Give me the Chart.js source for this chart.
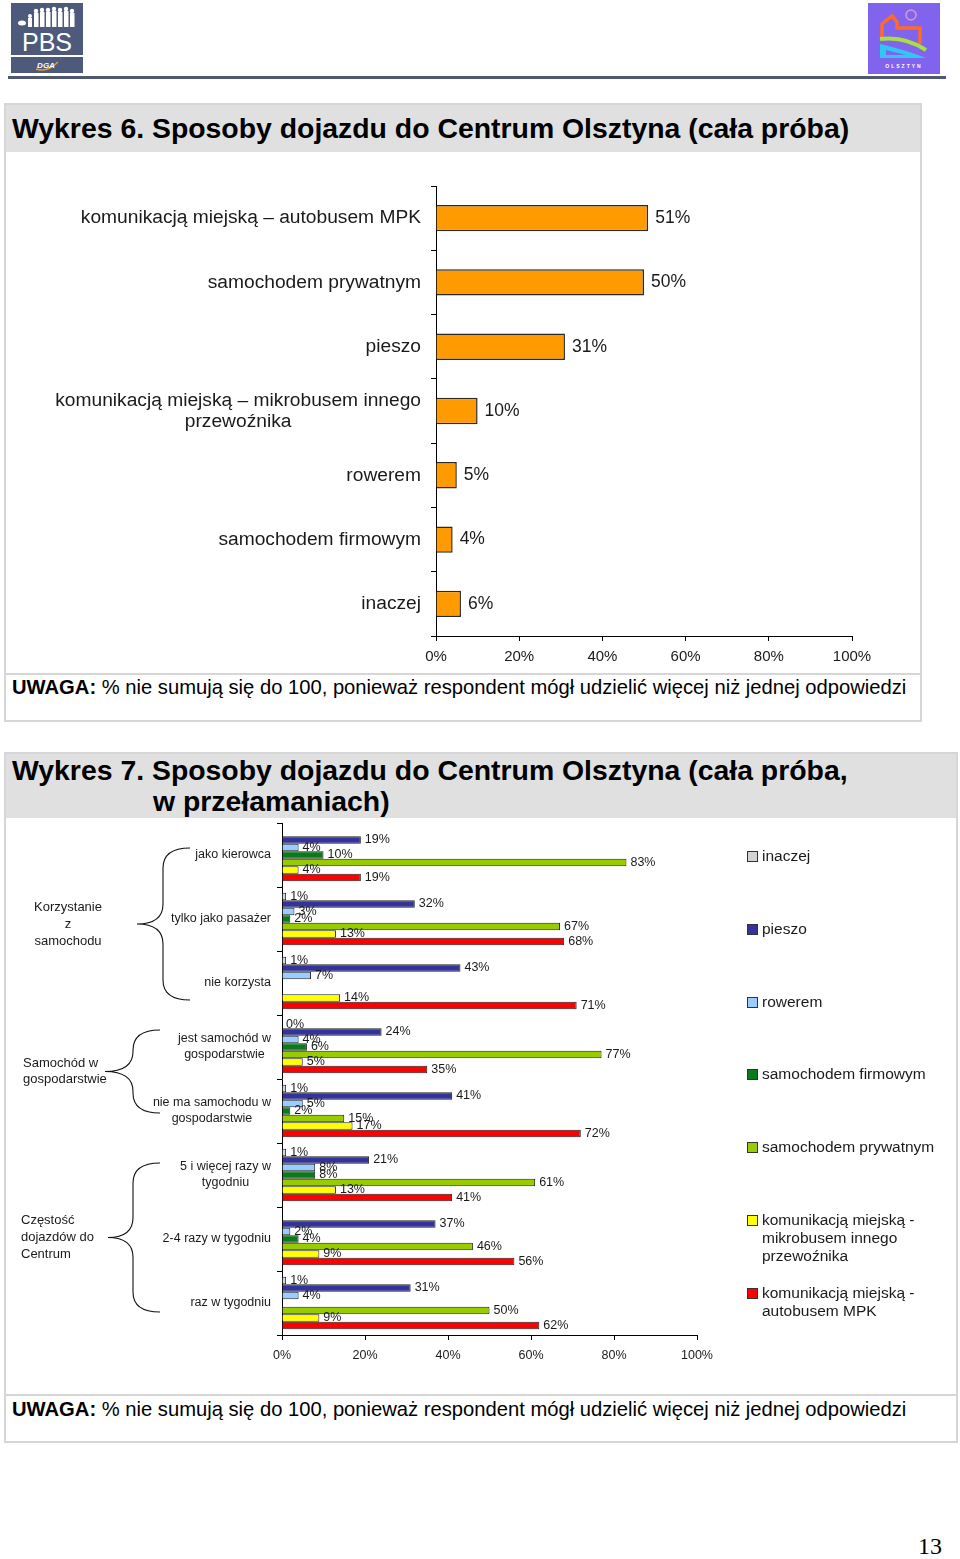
<!DOCTYPE html>
<html lang="pl">
<head>
  <meta charset="UTF-8">
  <title>Sposoby dojazdu do Centrum Olsztyna</title>
  <script src="https://cdn.jsdelivr.net/npm/chart.js"></script>
  <style>
    body { margin: 0; width: 960px; height: 1559px; position: relative; overflow: hidden;
           background: #fff; font-family: "Liberation Sans", Arial, sans-serif; color: #1a1a1a; }
    .abs { position: absolute; }
    .box { position: absolute; border: 2px solid #d6d6d6; box-sizing: border-box; }
    .band { position: absolute; background: #e0e0e0; }
    .sep { position: absolute; height: 2px; background: #d6d6d6; }
    .title { position: absolute; font-size: 28.4px; font-weight: bold; color: #000; white-space: nowrap; line-height: 32px; }
    .note { position: absolute; font-size: 20.2px; white-space: nowrap; color: #000; line-height: 24px; }
    .legend-item { position: absolute; left: 747px; width: 190px; font-size: 15.5px; line-height: 18px; color: #1a1a1a; }
    .legend-item i { position: absolute; left: 0; top: 4px; width: 9px; height: 9px; border: 1px solid #333; }
    .legend-item span { display: block; margin-left: 15px; }
    canvas { position: absolute; }
  </style>
</head>
<body>

<svg class="abs" style="left:0;top:0" width="960" height="80">
  <!-- PBS logo -->
  <rect x="11" y="3" width="72" height="52" fill="#4d5a7c"/>
  <rect x="11" y="57" width="72" height="16" fill="#4d5a7c"/>
  <g fill="#fff">
    <circle cx="30" cy="16" r="2"/><rect x="28" y="18" width="4" height="9"/>
    <circle cx="36" cy="11" r="2.2"/><rect x="34" y="13" width="4.5" height="14"/>
    <circle cx="42" cy="10" r="2.2"/><rect x="40" y="12" width="4.5" height="15"/>
    <circle cx="48" cy="10" r="2.2"/><rect x="46" y="12" width="4.5" height="15"/>
    <circle cx="54" cy="9" r="2.2"/><rect x="52" y="11" width="4.5" height="16"/>
    <circle cx="60" cy="10" r="2.2"/><rect x="58" y="12" width="4.5" height="15"/>
    <circle cx="66" cy="9" r="2.2"/><rect x="64" y="11" width="4.5" height="16"/>
    <circle cx="72" cy="11" r="2.2"/><rect x="70" y="13" width="4.5" height="14"/>
    <ellipse cx="22" cy="23" rx="4" ry="2.5"/>
  </g>
  <text x="47" y="51" text-anchor="middle" fill="#fff" font-family="Liberation Sans, Arial" font-size="25">PBS</text>
  <path d="M36 69 Q47 73 58 62" stroke="#e8a020" stroke-width="1.5" fill="none"/>
  <text x="46" y="68" text-anchor="middle" fill="#fff" font-family="Liberation Sans, Arial" font-size="8" font-weight="bold" font-style="italic">DGA</text>
  <!-- Olsztyn logo -->
  <rect x="868" y="3" width="72" height="71" fill="#8064ee"/>
  <circle cx="911" cy="15" r="5" fill="none" stroke="#d89ac8" stroke-width="1.5"/>
  <path d="M882 40 L882 24 L892 16 L897 22 L897 28 L920 28 L920 44" fill="none" stroke="#ff6a2a" stroke-width="3.5"/>
  <path d="M880 39 Q905 36 926 50" fill="none" stroke="#a8e040" stroke-width="4"/>
  <path d="M880 44 L880 58 L926 58 Q906 50 880 44 Z" fill="#30c8f0"/>
  <path d="M886 50 L886 55 L906 55 Z" fill="#8064ee"/>
  <text x="904" y="68" text-anchor="middle" fill="#fff" font-family="Liberation Sans, Arial" font-size="5" font-weight="bold" letter-spacing="2">OLSZTYN</text>
  <rect x="8" y="76" width="938" height="3" fill="#4e5870"/>
</svg>

<!-- Wykres 6 -->
<div class="box" style="left:4px;top:103px;width:918px;height:619px;"></div>
<div class="band" style="left:6px;top:105px;width:914px;height:47px;"></div>
<div class="title" style="left:12px;top:112px;">Wykres 6. Sposoby dojazdu do Centrum Olsztyna (cała próba)</div>
<canvas id="chart1" width="916" height="515" style="left:5px;top:153px;"></canvas>
<div class="sep" style="left:4px;top:673px;width:918px;"></div>
<div class="note" style="left:12px;top:675px;"><b>UWAGA:</b> % nie sumują się do 100, ponieważ respondent mógł udzielić więcej niż jednej odpowiedzi</div>

<!-- Wykres 7 -->
<div class="box" style="left:4px;top:752px;width:954px;height:691px;"></div>
<div class="band" style="left:6px;top:754px;width:950px;height:64px;"></div>
<div class="title" style="left:12px;top:754px;">Wykres 7. Sposoby dojazdu do Centrum Olsztyna (cała próba,</div>
<div class="title" style="left:153px;top:785px;">w przełamaniach)</div>
<canvas id="chart2" width="952" height="570" style="left:5px;top:819px;"></canvas>
<div id="legend2"></div>
<div class="sep" style="left:4px;top:1394px;width:954px;"></div>
<div class="note" style="left:12px;top:1397px;"><b>UWAGA:</b> % nie sumują się do 100, ponieważ respondent mógł udzielić więcej niż jednej odpowiedzi</div>

<div class="abs" style="left:918px;top:1533px;font-family:'Liberation Serif',serif;font-size:24px;color:#000;">13</div>

<script>
  // --- Wykres 6 data ---
  const modes1 = [
    ['komunikacją miejską – autobusem MPK'],
    ['samochodem prywatnym'],
    ['pieszo'],
    ['komunikacją miejską – mikrobusem innego', 'przewoźnika'],
    ['rowerem'],
    ['samochodem firmowym'],
    ['inaczej']
  ];
  const share1 = [51, 50, 31, 10, 5, 4, 6];
  const pctTicks = [0, 20, 40, 60, 80, 100];

  // --- Wykres 7 data ---
  const groups2 = [
    ['jako kierowca'],
    ['tylko jako pasażer'],
    ['nie korzysta'],
    ['jest samochód w', 'gospodarstwie'],
    ['nie ma samochodu w', 'gospodarstwie'],
    ['5 i więcej razy w', 'tygodniu'],
    ['2-4 razy w tygodniu'],
    ['raz w tygodniu']
  ];
  const sectionNames = [
    ['Korzystanie', 'z', 'samochodu'],
    ['Samochód w', 'gospodarstwie'],
    ['Częstość', 'dojazdów do', 'Centrum']
  ];
  const sectionSpans = [[0, 2], [3, 4], [5, 7]];
  const series2 = [
    'inaczej',
    'pieszo',
    'rowerem',
    'samochodem firmowym',
    'samochodem prywatnym',
    'komunikacją miejską - mikrobusem innego przewoźnika',
    'komunikacją miejską - autobusem MPK'
  ];
  const inaczej   = [null, 1, 1, 0, 1, 1, null, 1];
  const pieszo    = [19, 32, 43, 24, 41, 21, 37, 31];
  const rowerem   = [4, 3, 7, 4, 5, 8, 2, 4];
  const firmowym  = [10, 2, null, 6, 2, 8, 4, null];
  const prywatnym = [83, 67, null, 77, 15, 61, 46, 50];
  const mikrobus  = [4, 13, 14, 5, 17, 13, 9, 9];
  const autobus   = [19, 68, 71, 35, 72, 41, 56, 62];
  const values2 = [inaczej, pieszo, rowerem, firmowym, prywatnym, mikrobus, autobus];

  // styles
  const colors2 = ['#d4d4d4', '#333399', '#99ccff', '#0a7a1a', '#99cc00', '#ffff00', '#ff0000'];
  const FONT = '"Liberation Sans", Arial, sans-serif';
  Chart.defaults.font.family = FONT;
  Chart.defaults.color = '#1a1a1a';

  // value labels next to bar ends
  const valueLabels = {
    id: 'valueLabels',
    afterDatasetsDraw(chart, args, opts) {
      const ctx = chart.ctx;
      ctx.save();
      ctx.font = opts.size + 'px ' + FONT;
      ctx.fillStyle = '#1a1a1a';
      ctx.textAlign = 'left';
      ctx.textBaseline = 'middle';
      chart.data.datasets.forEach((ds, di) => {
        chart.getDatasetMeta(di).data.forEach((bar, i) => {
          const v = ds.data[i];
          if (v === null || v === undefined) return;
          ctx.fillText(v + '%', bar.x + opts.offset, bar.y);
        });
      });
      ctx.restore();
    }
  };

  // category labels drawn at the y-scale positions (right-aligned block, centred lines)
  const catLabels = {
    id: 'catLabels',
    afterDraw(chart, args, opts) {
      const ctx = chart.ctx, y = chart.scales.y;
      ctx.save();
      ctx.font = opts.size + 'px ' + FONT;
      ctx.fillStyle = '#1a1a1a';
      ctx.textAlign = 'center';
      ctx.textBaseline = 'middle';
      const right = chart.chartArea.left - opts.gap;
      opts.labels.forEach((lines, i) => {
        const w = Math.max(...lines.map(l => ctx.measureText(l).width));
        const cy = y.getPixelForValue(i) + (opts.shift || 0);
        lines.forEach((l, k) => {
          ctx.fillText(l, right - w / 2, cy + (k - (lines.length - 1) / 2) * opts.lineHeight);
        });
      });
      ctx.restore();
    }
  };

  // curly braces + section names for Wykres 7
  const braceGeom = [
    { xr: 185, xm: 158, xt: 132, dTop: -7, dBot: 17, tx: 63, align: 'center', lh: 17 },
    { xr: 155, xm: 128, xt: 100, dTop: -17, dBot: 2, tx: 18, align: 'left', lh: 16 },
    { xr: 155, xm: 128, xt: 103, dTop: -12, dBot: 9, tx: 16, align: 'left', lh: 17 }
  ];
  const braces = {
    id: 'braces',
    afterDraw(chart) {
      const ctx = chart.ctx, y = chart.scales.y;
      ctx.save();
      ctx.strokeStyle = '#111';
      ctx.lineWidth = 1.1;
      ctx.font = '13px ' + FONT;
      ctx.fillStyle = '#1a1a1a';
      ctx.textBaseline = 'middle';
      sectionSpans.forEach((span, s) => {
        const g = braceGeom[s];
        const top = y.getPixelForValue(span[0]) + g.dTop;
        const bot = y.getPixelForValue(span[1]) + g.dBot;
        const tip = (top + bot) / 2;
        const r = 20;
        ctx.beginPath();
        ctx.moveTo(g.xr, top);
        ctx.quadraticCurveTo(g.xm, top, g.xm, top + r);
        ctx.lineTo(g.xm, tip - r);
        ctx.quadraticCurveTo(g.xm, tip, g.xt, tip);
        ctx.quadraticCurveTo(g.xm, tip, g.xm, tip + r);
        ctx.lineTo(g.xm, bot - r);
        ctx.quadraticCurveTo(g.xm, bot, g.xr, bot);
        ctx.stroke();
        const lines = sectionNames[s];
        ctx.textAlign = g.align;
        lines.forEach((l, k) => {
          ctx.fillText(l, g.tx, tip + (k - (lines.length - 1) / 2) * g.lh);
        });
      });
      ctx.restore();
    }
  };

  const pctAxis = (size, pad, h) => ({
    min: 0, max: 100,
    afterBuildTicks: s => { s.ticks = pctTicks.map(v => ({ value: v })); },
    afterFit: s => { s.height = h; },
    ticks: { callback: v => v + '%', font: { size: size }, color: '#1a1a1a', padding: pad, maxRotation: 0 },
    grid: { drawOnChartArea: false, tickLength: 5, color: '#000' },
    border: { color: '#000', width: 1 }
  });
  const catAxis = {
    afterFit: s => { s.width = 0; },
    ticks: { display: false },
    grid: { drawOnChartArea: false, tickLength: 5, color: '#000', offset: true },
    border: { color: '#000', width: 1 }
  };

  new Chart(document.getElementById('chart1'), {
    type: 'bar',
    data: {
      labels: modes1.map(l => l.join(' ')),
      datasets: [{
        data: share1,
        backgroundColor: '#ff9a00',
        borderColor: '#2a2a2a',
        borderWidth: 1.5,
        categoryPercentage: 1,
        barPercentage: 0.41
      }]
    },
    options: {
      indexAxis: 'y',
      responsive: false,
      animation: false,
      layout: { padding: { left: 431, right: 69, top: 33, bottom: 0 } },
      plugins: {
        legend: { display: false },
        tooltip: { enabled: false },
        valueLabels: { size: 17.5, offset: 7 },
        catLabels: { labels: modes1, size: 19.2, gap: 15, lineHeight: 21 }
      },
      scales: { x: pctAxis(15, 7, 32), y: catAxis }
    },
    plugins: [valueLabels, catLabels]
  });

  new Chart(document.getElementById('chart2'), {
    type: 'bar',
    data: {
      labels: groups2.map(l => l.join(' ')),
      datasets: series2.map((name, i) => ({
        label: name,
        data: values2[i],
        backgroundColor: colors2[i],
        borderColor: '#222',
        borderWidth: 1,
        categoryPercentage: 0.82,
        barPercentage: 1
      }))
    },
    options: {
      indexAxis: 'y',
      responsive: false,
      animation: false,
      layout: { padding: { left: 277, right: 260, top: 4, bottom: 0 } },
      plugins: {
        legend: { display: false },
        tooltip: { enabled: false },
        valueLabels: { size: 12.5, offset: 4 },
        catLabels: { labels: groups2, size: 12.5, gap: 11, lineHeight: 16 }
      },
      scales: { x: pctAxis(12.5, 8, 54), y: catAxis }
    },
    plugins: [valueLabels, catLabels, braces]
  });

  // HTML legend for Wykres 7
  const legendBox = document.getElementById('legend2');
  series2.forEach((name, i) => {
    const item = document.createElement('div');
    item.className = 'legend-item';
    item.style.top = (847 + i * 72.8) + 'px';
    item.innerHTML = '<i style="background:' + colors2[i] + '"></i><span>' + name + '</span>';
    legendBox.appendChild(item);
  });
</script>
</body>
</html>
